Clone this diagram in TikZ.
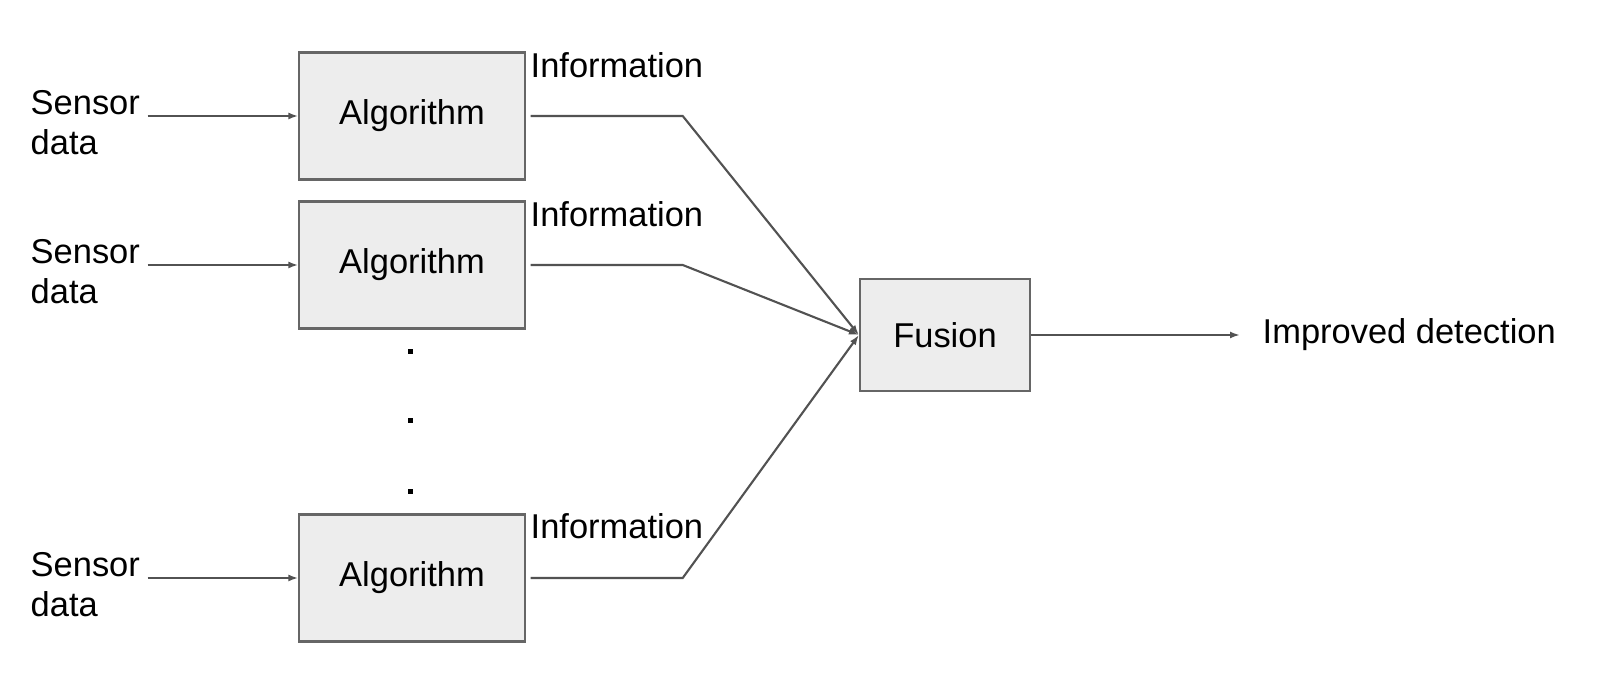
\documentclass[tikz,border=0pt]{standalone}
\usepackage{fontspec}
\setmainfont{Liberation Sans}
\usetikzlibrary{arrows.meta,positioning}
\tikzset{font=\fontsize{9.8}{11.4}\selectfont}
\tikzstyle{algbox}=[draw=black!60,fill=black!7,line width=0.6pt,minimum width=2.25cm,minimum height=1.27cm,inner sep=0pt]
\tikzstyle{wire}=[draw=black!68,line width=0.6pt,-{Latex[length=1mm,width=0.7mm]}]
\tikzstyle{lbl}=[inner sep=0pt,align=left]
\tikzstyle{dot}=[fill=black,minimum size=0.5mm,inner sep=0pt]

\begin{document}
\begin{tikzpicture}[x=0.01cm,y=-0.01cm]
\useasboundingbox (0,0) rectangle (1622,689);
\node[algbox] (A1) at (412,116) {Algorithm};
\node[algbox] (A2) at (412,265) {Algorithm};
\node[algbox] (A3) at (412,578) {Algorithm};
\node[algbox,minimum width=1.7cm,minimum height=1.12cm] (F) at (945,335) {Fusion};
\node[lbl,anchor=west] (D) at (1262,335) {Improved detection};
\foreach \i/\y in {1/123,2/272,3/585}
  \node[lbl,anchor=west] (S\i) at (30,\y) {Sensor\\data};
\foreach \i/\y in {1/65,2/214,3/526}
  \node[lbl,anchor=west] (I\i) at (530,\y) {Information};
\foreach \i/\y in {1/352,2/421,3/492}
  \node[dot] (P\i) at (410,\y) {};
% inputs and outputs of each algorithm
\foreach \i in {1,2,3} {
  \coordinate (K\i) at ([xshift=1.57cm]A\i.east);
  \draw[wire,shorten <=0.7mm] (S\i.east |- A\i) -- (A\i);
  \draw[wire] ([xshift=0.5mm]A\i.east) -- (K\i) -- (F.west);
}
\draw[wire,shorten >=2.2mm] (F) -- (F -| D.west);
\end{tikzpicture}
\end{document}
